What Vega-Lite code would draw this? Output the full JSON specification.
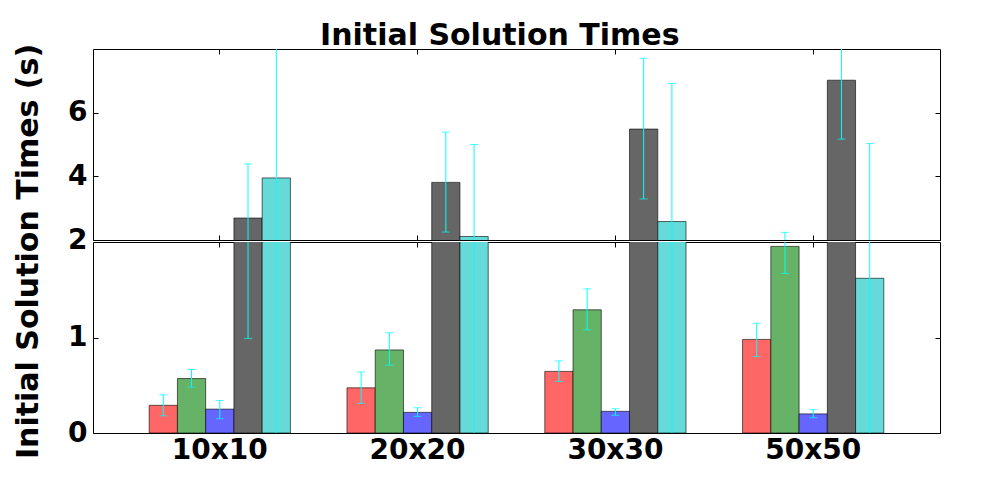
{
  "$schema": "https://vega.github.io/schema/vega-lite/v6.json",
  "padding": {"left": 12, "top": 20, "right": 0, "bottom": 0},
  "background": "white",
  "bounds": "flush",
  "spacing": 2,
  "title": {"text": "Initial Solution Times", "font": "DejaVu Sans", "fontSize": 30, "fontWeight": "bold", "color": "black", "anchor": "middle", "dx": 23, "offset": -8},
  "data": {"values": [
    {"size": "10x10", "method": "A", "mean": 0.29, "lo": 0.18, "hi": 0.40},
    {"size": "10x10", "method": "B", "mean": 0.57, "lo": 0.48, "hi": 0.665},
    {"size": "10x10", "method": "C", "mean": 0.25, "lo": 0.15, "hi": 0.34},
    {"size": "10x10", "method": "D", "mean": 2.69, "lo": 0.99, "hi": 4.39},
    {"size": "10x10", "method": "E", "mean": 3.95, "lo": -0.3, "hi": 8.2},
    {"size": "20x20", "method": "A", "mean": 0.473, "lo": 0.31, "hi": 0.64},
    {"size": "20x20", "method": "B", "mean": 0.87, "lo": 0.71, "hi": 1.05},
    {"size": "20x20", "method": "C", "mean": 0.216, "lo": 0.174, "hi": 0.265},
    {"size": "20x20", "method": "D", "mean": 3.81, "lo": 2.25, "hi": 5.39},
    {"size": "20x20", "method": "E", "mean": 2.11, "lo": -0.78, "hi": 5.0},
    {"size": "30x30", "method": "A", "mean": 0.645, "lo": 0.54, "hi": 0.755},
    {"size": "30x30", "method": "B", "mean": 1.29, "lo": 1.08, "hi": 1.51},
    {"size": "30x30", "method": "C", "mean": 0.227, "lo": 0.185, "hi": 0.254},
    {"size": "30x30", "method": "D", "mean": 5.485, "lo": 3.29, "hi": 7.71},
    {"size": "30x30", "method": "E", "mean": 2.58, "lo": -1.76, "hi": 6.92},
    {"size": "50x50", "method": "A", "mean": 0.98, "lo": 0.80, "hi": 1.15},
    {"size": "50x50", "method": "B", "mean": 1.954, "lo": 1.67, "hi": 2.24},
    {"size": "50x50", "method": "C", "mean": 0.20, "lo": 0.16, "hi": 0.245},
    {"size": "50x50", "method": "D", "mean": 7.02, "lo": 5.17, "hi": 8.87},
    {"size": "50x50", "method": "E", "mean": 1.62, "lo": -1.79, "hi": 5.03}
  ]},
  "vconcat": [
    {
      "width": 847,
      "height": 191,
      "resolve": {"axis": {"x": "independent", "y": "independent"}},
      "layer": [
        {
          "mark": {"type": "bar", "clip": true, "stroke": "black", "strokeOpacity": 0.6, "strokeWidth": 1},
          "encoding": {
            "x": {"field": "size", "type": "nominal", "scale": {"paddingInner": 0.286, "paddingOuter": 0.284}, "axis": {"orient": "bottom", "labels": false, "title": null}},
            "xOffset": {"field": "method", "type": "nominal", "scale": {"paddingInner": 0, "paddingOuter": 0}},
            "y": {"field": "mean", "type": "quantitative", "scale": {"domain": [2, 8], "nice": false, "zero": false}, "axis": {"orient": "left", "values": [2, 4, 6], "labelPadding": 11, "title": "Initial Solution Times (s)", "titleX": -65, "titleY": 202, "titleBaseline": "middle", "titleAlign": "center", "titleFontSize": 30, "titleFont": "DejaVu Sans", "titleFontWeight": "bold", "titleColor": "black"}},
            "color": {"field": "method", "type": "nominal", "scale": {"domain": ["A", "B", "C", "D", "E"], "range": ["#ff6666", "#66b266", "#6666ff", "#666666", "#66d9d9"]}, "legend": null}
          }
        },
        {
          "mark": {"type": "rule", "clip": true, "color": "#00ffff", "strokeWidth": 1},
          "encoding": {
            "x": {"field": "size", "type": "nominal", "axis": {"orient": "top", "labels": false, "title": null}},
            "xOffset": {"field": "method", "type": "nominal"},
            "y": {"field": "lo", "type": "quantitative", "axis": {"orient": "right", "values": [2, 4, 6], "labels": false, "title": null}},
            "y2": {"field": "hi"}
          }
        },
        {
          "mark": {"type": "tick", "clip": true, "color": "#00ffff", "size": 8, "thickness": 1, "orient": "horizontal"},
          "encoding": {
            "x": {"field": "size", "type": "nominal", "axis": null},
            "xOffset": {"field": "method", "type": "nominal"},
            "y": {"field": "lo", "type": "quantitative", "axis": null}
          }
        },
        {
          "mark": {"type": "tick", "clip": true, "color": "#00ffff", "size": 8, "thickness": 1, "orient": "horizontal"},
          "encoding": {
            "x": {"field": "size", "type": "nominal", "axis": null},
            "xOffset": {"field": "method", "type": "nominal"},
            "y": {"field": "hi", "type": "quantitative", "axis": null}
          }
        }
      ]
    },
    {
      "width": 847,
      "height": 191,
      "resolve": {"axis": {"x": "independent", "y": "independent"}},
      "layer": [
        {
          "mark": {"type": "bar", "clip": true, "stroke": "black", "strokeOpacity": 0.6, "strokeWidth": 1},
          "encoding": {
            "x": {"field": "size", "type": "nominal", "scale": {"paddingInner": 0.286, "paddingOuter": 0.284}, "axis": {"orient": "bottom", "title": null, "labelAngle": 0, "labelPadding": 8}},
            "xOffset": {"field": "method", "type": "nominal", "scale": {"paddingInner": 0, "paddingOuter": 0}},
            "y": {"field": "mean", "type": "quantitative", "scale": {"domain": [0, 2], "nice": false}, "axis": {"orient": "left", "values": [0, 1], "labelPadding": 11, "title": null}},
            "color": {"field": "method", "type": "nominal", "scale": {"domain": ["A", "B", "C", "D", "E"], "range": ["#ff6666", "#66b266", "#6666ff", "#666666", "#66d9d9"]}, "legend": null}
          }
        },
        {
          "mark": {"type": "rule", "clip": true, "color": "#00ffff", "strokeWidth": 1},
          "encoding": {
            "x": {"field": "size", "type": "nominal", "axis": {"orient": "top", "labels": false, "title": null}},
            "xOffset": {"field": "method", "type": "nominal"},
            "y": {"field": "lo", "type": "quantitative", "axis": {"orient": "right", "values": [0, 1], "labels": false, "title": null}},
            "y2": {"field": "hi"}
          }
        },
        {
          "mark": {"type": "tick", "clip": true, "color": "#00ffff", "size": 8, "thickness": 1, "orient": "horizontal"},
          "encoding": {
            "x": {"field": "size", "type": "nominal", "axis": null},
            "xOffset": {"field": "method", "type": "nominal"},
            "y": {"field": "lo", "type": "quantitative", "axis": null}
          }
        },
        {
          "mark": {"type": "tick", "clip": true, "color": "#00ffff", "size": 8, "thickness": 1, "orient": "horizontal"},
          "encoding": {
            "x": {"field": "size", "type": "nominal", "axis": null},
            "xOffset": {"field": "method", "type": "nominal"},
            "y": {"field": "hi", "type": "quantitative", "axis": null}
          }
        }
      ]
    }
  ],
  "config": {
    "view": {"stroke": "black", "strokeWidth": 1},
    "axis": {
      "domain": false,
      "grid": false,
      "ticks": true,
      "tickSize": -5,
      "tickColor": "black",
      "tickWidth": 1,
      "labelFont": "DejaVu Sans",
      "labelFontSize": 28,
      "labelFontWeight": "bold",
      "labelColor": "black",
      "labelPadding": 6,
      "labelFlush": false,
      "labelOverlap": false,
      "labelBound": false
    }
  }
}
